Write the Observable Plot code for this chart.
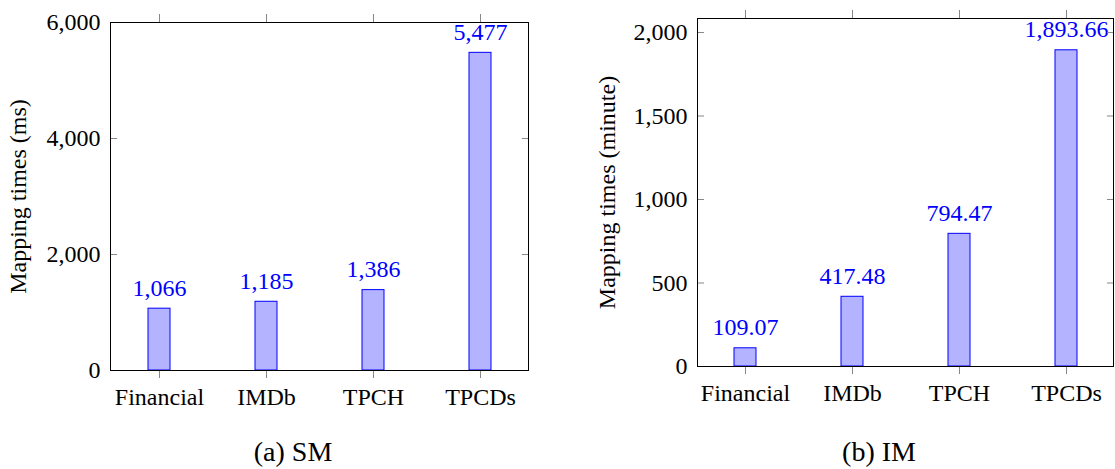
<!DOCTYPE html>
<html><head><meta charset="utf-8">
<script src="https://cdn.jsdelivr.net/npm/d3@7"></script>
<script src="https://cdn.jsdelivr.net/npm/@observablehq/plot@0.6"></script>
<style>
body{margin:0;background:#fff;}
#wrap{position:relative;width:1115px;height:469px;font-family:"Liberation Serif","DejaVu Serif","Times New Roman",serif;overflow:hidden;}
#wrap svg, #wrap svg text{font-family:"Liberation Serif","DejaVu Serif","Times New Roman",serif !important;}
.panel{position:absolute;top:0;}
.cap{position:absolute;font-size:28px;line-height:28px;color:#000;transform:translateX(-50%);white-space:nowrap;}
</style></head><body>
<div id="wrap"></div>
<script>
const categories = ["Financial", "IMDb", "TPCH", "TPCDs"];
const smValues = [1066, 1185, 1386, 5477];
const imValues = [109.07, 417.48, 794.47, 1893.66];
const smTicks = [0, 2000, 4000, 6000];
const imTicks = [0, 500, 1000, 1500, 2000];
const smLabel = "Mapping times (ms)";
const imLabel = "Mapping times (minute)";
const captions = ["(a) SM", "(b) IM"];

const FONT = '"Liberation Serif", "DejaVu Serif", "Times New Roman", serif';
const noText = () => "";

function panel({values, ticks, ymax, label, fmt, width, mLeft, mRight, mTop, mBottom, labelOffset}) {
  const data = categories.map((c, i) => ({cat: c, v: values[i], lab: fmt(values[i])}));
  return Plot.plot({
    width, height: 410,
    marginLeft: mLeft, marginRight: mRight, marginTop: mTop, marginBottom: mBottom,
    style: {fontFamily: FONT, fontSize: "24px", color: "#000", background: "transparent", overflow: "visible"},
    x: {domain: categories, paddingInner: 0.795, paddingOuter: 0.34, label: null},
    y: {domain: [0, ymax], label: null},
    marks: [
      Plot.barY(data, {x: "cat", y: "v", fill: "#b3b3ff", stroke: "#0000ff", strokeWidth: 1}),
      Plot.text(data, {x: "cat", y: "v", text: "lab", fill: "#0000ff", lineAnchor: "bottom", dy: -13, fontSize: 24, fontFamily: FONT}),
      Plot.axisX({anchor: "bottom", tickSize: 8, tickPadding: 9, stroke: "#888", fill: "#000", fontSize: 24, fontFamily: FONT, label: null}),
      Plot.axisX({anchor: "top", tickSize: 9, tickFormat: noText, stroke: "#888", label: null}),
      Plot.axisY({anchor: "left", ticks, tickSize: 0, tickPadding: 10, tickFormat: d3.format(","), fontSize: 24, fontFamily: FONT,
        label, labelAnchor: "center", labelArrow: "none", labelOffset}),
      Plot.axisY({anchor: "left", ticks, tickSize: -7, tickFormat: noText, stroke: "#888", label: null}),
      Plot.axisY({anchor: "right", ticks, tickSize: -7, tickFormat: noText, stroke: "#888", label: null}),
      Plot.frame({stroke: "#000", strokeWidth: 1})
    ]
  });
}

const wrap = document.getElementById("wrap");
const left = panel({values: smValues, ticks: smTicks, ymax: 6000, label: smLabel, fmt: d3.format(","),
  width: 560, mLeft: 110, mRight: 32, mTop: 22, mBottom: 40, labelOffset: 102});
left.classList.add("panel"); left.style.left = "0px";
wrap.appendChild(left);
const right = panel({values: imValues, ticks: imTicks, ymax: 2084, label: imLabel, fmt: d3.format(",.2f"),
  width: 555, mLeft: 137, mRight: 2, mTop: 18, mBottom: 44, labelOffset: 100});
right.classList.add("panel"); right.style.left = "560px";
wrap.appendChild(right);

const capPos = [293, 879];
captions.forEach((t, i) => {
  const d = document.createElement("div");
  d.className = "cap"; d.textContent = t;
  d.style.left = capPos[i] + "px"; d.style.top = "438px";
  wrap.appendChild(d);
});
</script>
</body></html>
